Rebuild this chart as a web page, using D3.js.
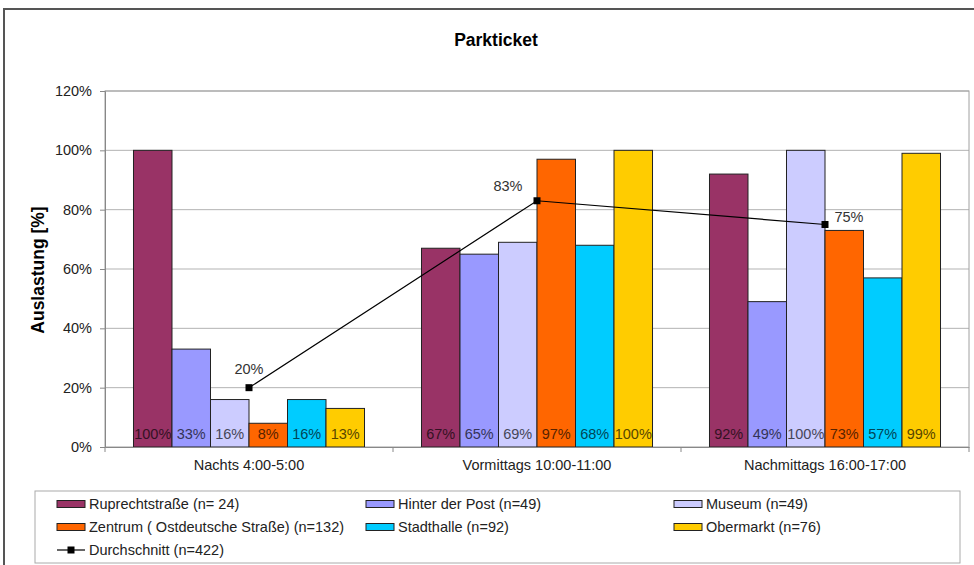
<!DOCTYPE html>
<html>
<head>
<meta charset="utf-8">
<script src="https://cdn.jsdelivr.net/npm/d3@7"></script>
<style>
  html, body { margin: 0; padding: 0; background: #fff; }
  svg { display: block; font-family: "Liberation Sans", Arial, sans-serif; }
</style>
</head>
<body>
<svg id="chart" width="974" height="565"></svg>
<script>
// Parking occupancy by time of day and car park
const categories = ["Nachts 4:00-5:00", "Vormittags 10:00-11:00", "Nachmittags 16:00-17:00"];
const seriesNames = [
  "Ruprechtstraße (n= 24)",
  "Hinter der Post (n=49)",
  "Museum (n=49)",
  "Zentrum ( Ostdeutsche Straße) (n=132)",
  "Stadthalle (n=92)",
  "Obermarkt (n=76)"
];
const seriesColors = ["#993366", "#9999FF", "#CCCCFF", "#FF6600", "#00CCFF", "#FFCC00"];
const ruprecht   = [100, 67, 92];
const hinterPost = [33, 65, 49];
const museum     = [16, 69, 100];
const zentrum    = [8, 97, 73];
const stadthalle = [16, 68, 57];
const obermarkt  = [13, 100, 99];
const seriesValues = [ruprecht, hinterPost, museum, zentrum, stadthalle, obermarkt];
const averageName = "Durchschnitt (n=422)";
const average = [20, 83, 75];
const yTicks = [0, 20, 40, 60, 80, 100, 120];

const FS = 14.5;
const svg = d3.select("#chart");

// outer chart frame
svg.append("rect").attr("x", 4).attr("y", 9).attr("width", 980).attr("height", 570)
  .attr("fill", "#fff").attr("stroke", "#555").attr("stroke-width", 2);

const plot = { left: 105, right: 969, top: 91, bottom: 447 };

const x0 = d3.scaleBand().domain(categories).range([plot.left, plot.right]).padding(0);
const x1 = d3.scaleBand().domain(d3.range(seriesNames.length))
  .range([0, x0.bandwidth()]).paddingInner(0).paddingOuter(0.74);
const y = d3.scaleLinear().domain([0, 120]).range([plot.bottom, plot.top]);

// title
svg.append("text").attr("x", 496).attr("y", 46).attr("text-anchor", "middle")
  .attr("font-size", 17.5).attr("font-weight", "bold").attr("fill", "#000").text("Parkticket");

// gridlines
svg.append("g").selectAll("line").data(yTicks.filter(d => d > 0)).join("line")
  .attr("x1", plot.left).attr("x2", plot.right)
  .attr("y1", d => y(d)).attr("y2", d => y(d))
  .attr("stroke", "#b3b3b3").attr("stroke-width", 1);

// plot area border
svg.append("rect").attr("x", plot.left).attr("y", plot.top)
  .attr("width", plot.right - plot.left).attr("height", plot.bottom - plot.top)
  .attr("fill", "none").attr("stroke", "#a0a0a0");

// y axis
const yAxis = d3.axisLeft(y).tickValues(yTicks).tickFormat(d => d + "%").tickSize(5).tickPadding(8);
const gy = svg.append("g").attr("transform", `translate(${plot.left},0)`).call(yAxis);
gy.select(".domain").attr("stroke", "#888");
gy.selectAll(".tick line").attr("stroke", "#888");
gy.selectAll(".tick text").attr("font-size", FS).attr("fill", "#222")
  .attr("font-family", "Liberation Sans, Arial, sans-serif");

svg.append("text")
  .attr("transform", `translate(44,${(plot.top + plot.bottom) / 2 + 1}) rotate(-90)`)
  .attr("text-anchor", "middle").attr("font-size", 17.5).attr("font-weight", "bold")
  .attr("fill", "#000").text("Auslastung [%]");

// bars
const groups = svg.append("g").selectAll("g").data(categories).join("g")
  .attr("transform", d => `translate(${x0(d)},0)`);

groups.each(function(cat, ci) {
  const g = d3.select(this);
  const rows = seriesValues.map((vals, si) => ({ si, v: vals[ci] }));
  g.selectAll("rect").data(rows).join("rect")
    .attr("x", d => x1(d.si)).attr("width", x1.bandwidth())
    .attr("y", d => y(d.v)).attr("height", d => y(0) - y(d.v))
    .attr("fill", d => seriesColors[d.si]).attr("stroke", "#222").attr("stroke-width", 1);
  g.selectAll("text").data(rows).join("text")
    .attr("x", d => x1(d.si) + x1.bandwidth() / 2).attr("y", y(0) - 8)
    .attr("text-anchor", "middle").attr("font-size", FS)
    .attr("fill", d => d3.color(seriesColors[d.si]).darker(3))
    .text(d => d.v + "%");
});

// x axis
const xAxis = d3.axisBottom(x0).tickSize(0).tickPadding(13);
const gx = svg.append("g").attr("transform", `translate(0,${plot.bottom})`).call(xAxis);
gx.select(".domain").attr("stroke", "#888");
gx.selectAll(".tick text").attr("font-size", FS).attr("fill", "#222")
  .attr("font-family", "Liberation Sans, Arial, sans-serif");
svg.append("g").selectAll("line")
  .data(categories.map(c => x0(c)).concat([plot.right])).join("line")
  .attr("x1", d => d).attr("x2", d => d)
  .attr("y1", plot.bottom).attr("y2", plot.bottom + 5).attr("stroke", "#888");

// average line
const cx = c => x0(c) + x0.bandwidth() / 2;
const line = d3.line().x((d, i) => cx(categories[i])).y(d => y(d));
svg.append("path").datum(average).attr("d", line)
  .attr("fill", "none").attr("stroke", "#000").attr("stroke-width", 1.2);
svg.append("g").selectAll("rect").data(average).join("rect")
  .attr("x", (d, i) => cx(categories[i]) - 3.5).attr("y", d => y(d) - 3.5)
  .attr("width", 7).attr("height", 7).attr("fill", "#000");

const avgLabelOffset = [[0, -14], [-29, -10], [24, -3]];
svg.append("g").selectAll("text").data(average).join("text")
  .attr("x", (d, i) => cx(categories[i]) + avgLabelOffset[i][0])
  .attr("y", (d, i) => y(d) + avgLabelOffset[i][1])
  .attr("text-anchor", "middle").attr("font-size", FS).attr("fill", "#333")
  .text(d => d + "%");

// legend
svg.append("rect").attr("x", 35).attr("y", 491).attr("width", 925).attr("height", 72)
  .attr("fill", "#fff").attr("stroke", "#aaa");

const legendCols = [57, 366, 674];
const legendRows = [504, 527, 550];
const legend = svg.append("g");
seriesNames.forEach((name, i) => {
  const lx = legendCols[i % 3], ly = legendRows[Math.floor(i / 3)];
  legend.append("rect").attr("x", lx).attr("y", ly - 3.5).attr("width", 28).attr("height", 7)
    .attr("fill", seriesColors[i]).attr("stroke", "#222");
  legend.append("text").attr("x", lx + 32).attr("y", ly + 5)
    .attr("font-size", FS).attr("fill", "#222").text(name);
});
{
  const lx = legendCols[0], ly = legendRows[2];
  legend.append("line").attr("x1", lx).attr("x2", lx + 28).attr("y1", ly).attr("y2", ly)
    .attr("stroke", "#000").attr("stroke-width", 1.2);
  legend.append("rect").attr("x", lx + 10.5).attr("y", ly - 3.5).attr("width", 7).attr("height", 7)
    .attr("fill", "#000");
  legend.append("text").attr("x", lx + 32).attr("y", ly + 5)
    .attr("font-size", FS).attr("fill", "#222").text(averageName);
}
</script>
</body>
</html>
